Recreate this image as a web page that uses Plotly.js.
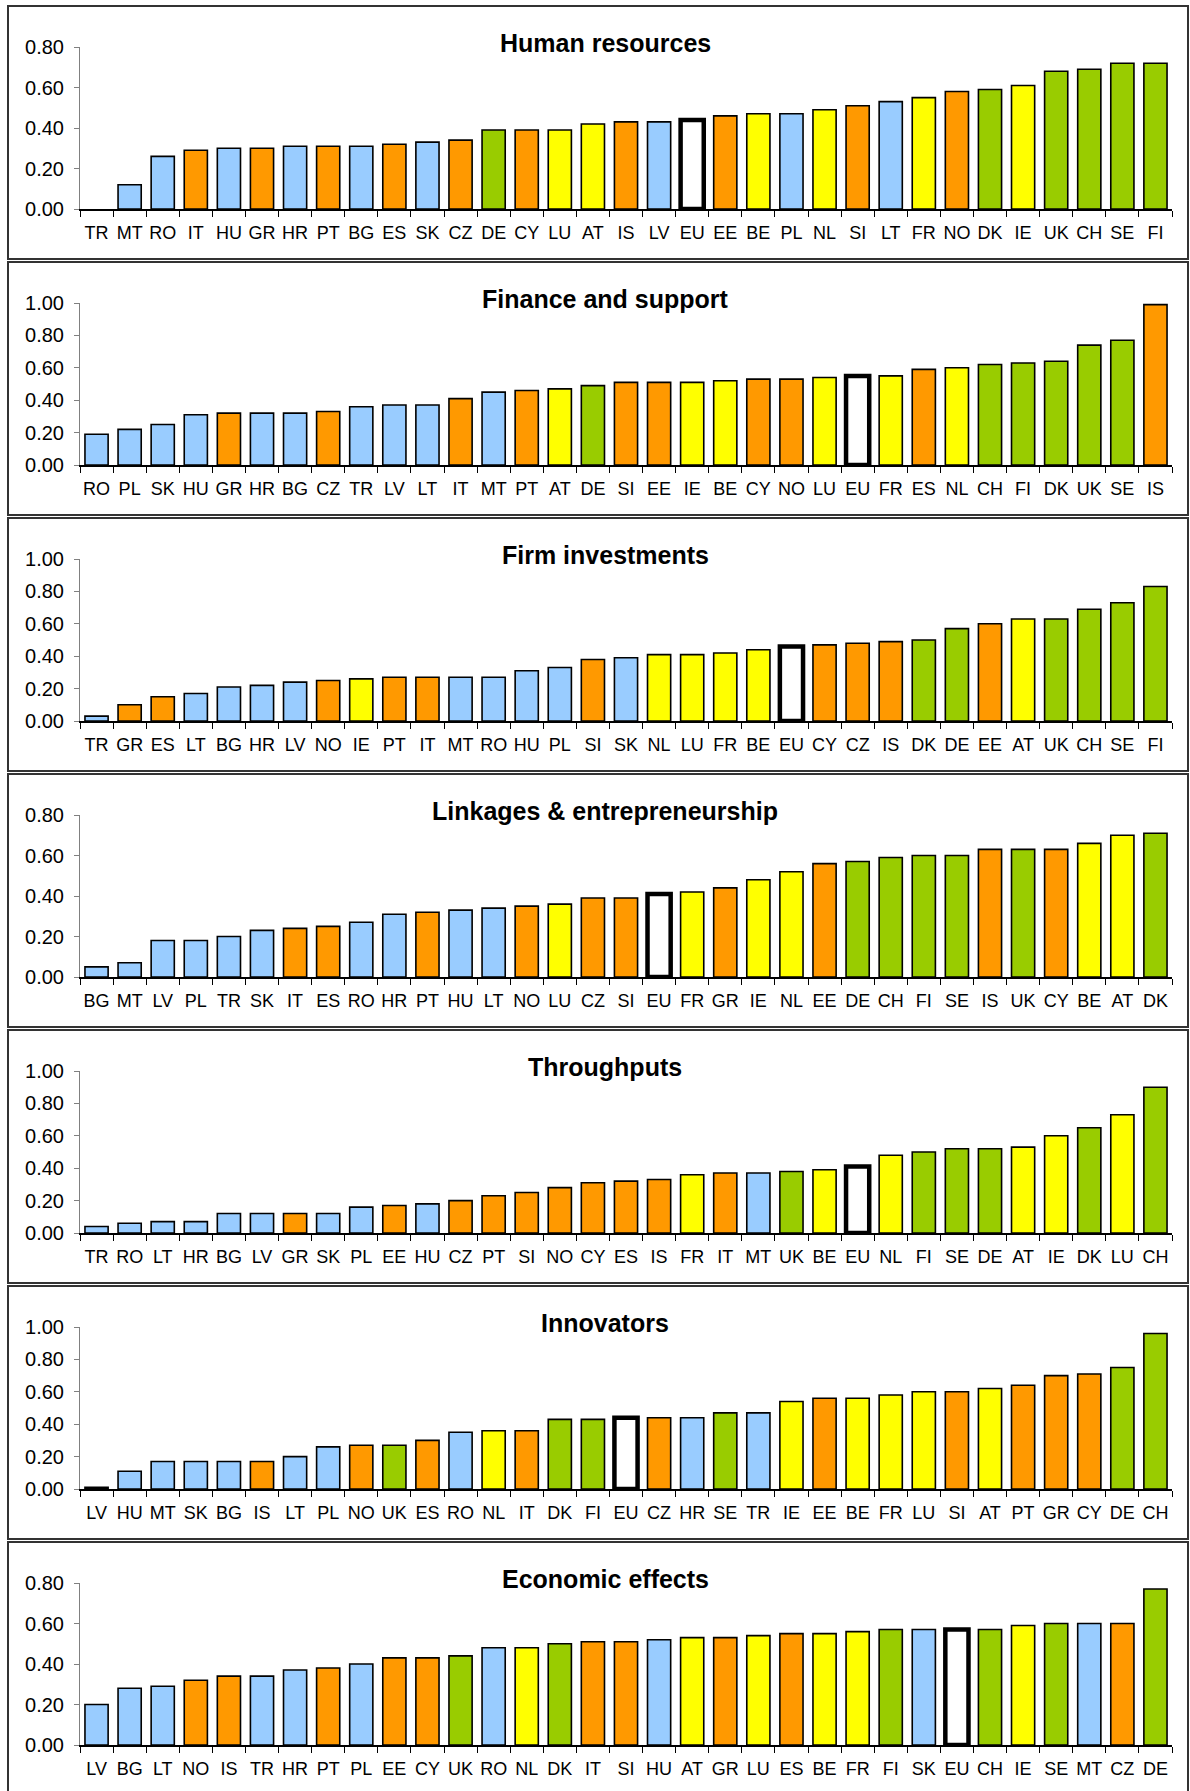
<!DOCTYPE html>
<html>
<head>
<meta charset="utf-8">
<script src="https://cdn.plot.ly/plotly-3.0.1.min.js"></script>
<style>
  html, body { margin: 0; padding: 0; background: #ffffff; }
  #chart { width: 1190px; height: 1791px; }
</style>
</head>
<body>
<div id="chart"></div>
<script>
// ---------------- DATA ----------------
const panelTitles = [
  "Human resources",
  "Finance and support",
  "Firm investments",
  "Linkages & entrepreneurship",
  "Throughputs",
  "Innovators",
  "Economic effects"
];

const hrCountries = ["TR","MT","RO","IT","HU","GR","HR","PT","BG","ES","SK","CZ","DE","CY","LU","AT","IS","LV","EU","EE","BE","PL","NL","SI","LT","FR","NO","DK","IE","UK","CH","SE","FI"];
const hrValues    = [0.00,0.12,0.26,0.29,0.30,0.30,0.31,0.31,0.31,0.32,0.33,0.34,0.39,0.39,0.39,0.42,0.43,0.43,0.44,0.46,0.47,0.47,0.49,0.51,0.53,0.55,0.58,0.59,0.61,0.68,0.69,0.72,0.72];

const fsCountries = ["RO","PL","SK","HU","GR","HR","BG","CZ","TR","LV","LT","IT","MT","PT","AT","DE","SI","EE","IE","BE","CY","NO","LU","EU","FR","ES","NL","CH","FI","DK","UK","SE","IS"];
const fsValues    = [0.19,0.22,0.25,0.31,0.32,0.32,0.32,0.33,0.36,0.37,0.37,0.41,0.45,0.46,0.47,0.49,0.51,0.51,0.51,0.52,0.53,0.53,0.54,0.55,0.55,0.59,0.60,0.62,0.63,0.64,0.74,0.77,0.99];

const fiCountries = ["TR","GR","ES","LT","BG","HR","LV","NO","IE","PT","IT","MT","RO","HU","PL","SI","SK","NL","LU","FR","BE","EU","CY","CZ","IS","DK","DE","EE","AT","UK","CH","SE","FI"];
const fiValues    = [0.03,0.10,0.15,0.17,0.21,0.22,0.24,0.25,0.26,0.27,0.27,0.27,0.27,0.31,0.33,0.38,0.39,0.41,0.41,0.42,0.44,0.46,0.47,0.48,0.49,0.50,0.57,0.60,0.63,0.63,0.69,0.73,0.83];

const leCountries = ["BG","MT","LV","PL","TR","SK","IT","ES","RO","HR","PT","HU","LT","NO","LU","CZ","SI","EU","FR","GR","IE","NL","EE","DE","CH","FI","SE","IS","UK","CY","BE","AT","DK"];
const leValues    = [0.05,0.07,0.18,0.18,0.20,0.23,0.24,0.25,0.27,0.31,0.32,0.33,0.34,0.35,0.36,0.39,0.39,0.41,0.42,0.44,0.48,0.52,0.56,0.57,0.59,0.60,0.60,0.63,0.63,0.63,0.66,0.70,0.71];

const thCountries = ["TR","RO","LT","HR","BG","LV","GR","SK","PL","EE","HU","CZ","PT","SI","NO","CY","ES","IS","FR","IT","MT","UK","BE","EU","NL","FI","SE","DE","AT","IE","DK","LU","CH"];
const thValues    = [0.04,0.06,0.07,0.07,0.12,0.12,0.12,0.12,0.16,0.17,0.18,0.20,0.23,0.25,0.28,0.31,0.32,0.33,0.36,0.37,0.37,0.38,0.39,0.41,0.48,0.50,0.52,0.52,0.53,0.60,0.65,0.73,0.90];

const inCountries = ["LV","HU","MT","SK","BG","IS","LT","PL","NO","UK","ES","RO","NL","IT","DK","FI","EU","CZ","HR","SE","TR","IE","EE","BE","FR","LU","SI","AT","PT","GR","CY","DE","CH"];
const inValues    = [0.01,0.11,0.17,0.17,0.17,0.17,0.20,0.26,0.27,0.27,0.30,0.35,0.36,0.36,0.43,0.43,0.44,0.44,0.44,0.47,0.47,0.54,0.56,0.56,0.58,0.60,0.60,0.62,0.64,0.70,0.71,0.75,0.96];

const eeCountries = ["LV","BG","LT","NO","IS","TR","HR","PT","PL","EE","CY","UK","RO","NL","DK","IT","SI","HU","AT","GR","LU","ES","BE","FR","FI","SK","EU","CH","IE","SE","MT","CZ","DE"];
const eeValues    = [0.20,0.28,0.29,0.32,0.34,0.34,0.37,0.38,0.40,0.43,0.43,0.44,0.48,0.48,0.50,0.51,0.51,0.52,0.53,0.53,0.54,0.55,0.55,0.56,0.57,0.57,0.57,0.57,0.59,0.60,0.60,0.60,0.77];

const axisMax = [0.8, 1.0, 1.0, 0.8, 1.0, 1.0, 0.8];

// country groups (bar colours)
const greenGroup  = ["DE","DK","UK","CH","SE","FI"];
const yellowGroup = ["LU","AT","BE","NL","FR","IE"];
const orangeGroup = ["IT","GR","PT","ES","CZ","CY","IS","EE","SI","NO"];
const blueGroup   = ["TR","MT","RO","HU","HR","BG","SK","LV","PL","LT"];
const refGroup    = ["EU"];

// ---------------- BUILD ----------------
const panels = [
  [hrCountries, hrValues], [fsCountries, fsValues], [fiCountries, fiValues],
  [leCountries, leValues], [thCountries, thValues], [inCountries, inValues],
  [eeCountries, eeValues]
];

const W = 1190, H = 1791;
const PITCH = 256, TOP0 = 6;
const PLOT_TOP = 41, PLOT_BOT = 203;
const X0 = 80, X1 = 1172;
const FONT = "Liberation Sans, Arial, sans-serif";

function colorOf(c) {
  if (greenGroup.includes(c)) return "#99CC00";
  if (yellowGroup.includes(c)) return "#FFFF00";
  if (orangeGroup.includes(c)) return "#FF9900";
  if (refGroup.includes(c)) return "#FFFFFF";
  return "#99CCFF";
}

const data = [];
const layout = {
  width: W, height: H,
  margin: {l: 0, r: 0, t: 0, b: 0},
  paper_bgcolor: "#ffffff",
  plot_bgcolor: "rgba(0,0,0,0)",
  showlegend: false,
  font: {family: FONT, color: "#000000"},
  shapes: [],
  annotations: []
};

panels.forEach((p, i) => {
  const [cats, vals] = p;
  const k = i + 1;
  const xa = "x" + (k === 1 ? "" : k);
  const ya = "y" + (k === 1 ? "" : k);
  const T = TOP0 + PITCH * i;

  data.push({
    type: "bar",
    x: cats,
    y: vals,
    xaxis: xa,
    yaxis: ya,
    width: 0.7,
    marker: {
      color: cats.map(colorOf),
      line: {
        color: "#000000",
        width: cats.map((c, j) => vals[j] <= 0 ? 0 : (refGroup.includes(c) ? 4.5 : 1.6))
      }
    },
    hoverinfo: "x+y"
  });

  layout["xaxis" + (k === 1 ? "" : k)] = {
    domain: [X0 / W, X1 / W],
    anchor: ya,
    type: "category",
    range: [-0.5, cats.length - 0.5],
    tickson: "boundaries",
    ticks: "outside",
    ticklen: 6,
    tickwidth: 1,
    tickcolor: "#000000",
    showline: true,
    linecolor: "#000000",
    linewidth: 1.5,
    showgrid: false,
    zeroline: false,
    tickangle: 0,
    ticklabelstandoff: 7,
    tickfont: {size: 18, color: "#000000", family: FONT},
    fixedrange: true
  };

  layout["yaxis" + (k === 1 ? "" : k)] = {
    domain: [1 - (T + PLOT_BOT) / H, 1 - (T + PLOT_TOP) / H],
    anchor: xa,
    range: [0, axisMax[i]],
    dtick: 0.2,
    tick0: 0,
    tickformat: ".2f",
    ticks: "outside",
    ticklen: 5,
    tickwidth: 1,
    tickcolor: "#808080",
    showline: true,
    linecolor: "#808080",
    linewidth: 1,
    showgrid: false,
    zeroline: false,
    ticklabelstandoff: 6,
    tickfont: {size: 20, color: "#000000", family: FONT},
    fixedrange: true
  };

  // panel frame
  layout.shapes.push({
    type: "rect", xref: "paper", yref: "paper",
    x0: 8 / W, x1: 1188 / W,
    y0: 1 - (T + 253) / H, y1: 1 - T / H,
    line: {color: "#333333", width: 2},
    fillcolor: "rgba(0,0,0,0)",
    layer: "below"
  });

  // panel title
  layout.annotations.push({
    text: "<b>" + panelTitles[i].replace("&", "&amp;") + "</b>",
    xref: "paper", yref: "paper",
    x: 605 / W, y: 1 - (T + 37) / H,
    xanchor: "center", yanchor: "middle",
    showarrow: false,
    font: {size: 25, color: "#000000", family: FONT}
  });
});

Plotly.newPlot("chart", data, layout, {displayModeBar: false, staticPlot: true});
</script>
</body>
</html>
